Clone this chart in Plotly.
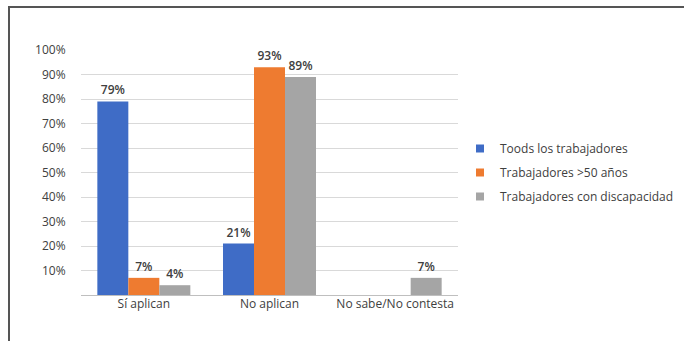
import plotly.graph_objects as go

categories = ["Sí aplican", "No aplican", "No sabe/No contesta"]
series_names = ["Toods los trabajadores", "Trabajadores >50 años", "Trabajadores con discapacidad"]
todos = [79, 21, None]
mayores50 = [7, 93, None]
discapacidad = [4, 89, 7]
y_ticks = [10, 20, 30, 40, 50, 60, 70, 80, 90, 100]
y_tick_labels = [f"{v}%" for v in y_ticks]

colors = ["#3F6CC6", "#EE7B30", "#A5A5A5"]
font_family = "Open Sans, Liberation Sans, sans-serif"

fig = go.Figure()
for i, (name, vals, col) in enumerate(zip(series_names, [todos, mayores50, discapacidad], colors)):
    fig.add_trace(go.Bar(
        x=categories, y=vals, name=name, showlegend=False, legendgroup=f"g{i}",
        marker=dict(color=col, line=dict(width=0)),
        text=[f"{v}%" if v else "" for v in vals],
        textposition="outside",
        textfont=dict(size=12, color="#404040", family=font_family, weight=600),
        cliponaxis=False,
    ))
for i, (name, col) in enumerate(zip(series_names, colors)):
    fig.add_trace(go.Scatter(
        x=[None], y=[None], mode="markers", name=name, legendgroup=f"g{i}",
        marker=dict(symbol="square", size=8, color=col),
        showlegend=True,
    ))

W, H = 684, 341
L, R, T, B = 81, 226, 50, 46
pw, ph = W - L - R, H - T - B

def px(xp):
    return (xp - L) / pw

def py(yp):
    return (H - B - yp) / ph

fig.update_layout(
    width=W, height=H,
    margin=dict(l=L, r=R, t=T, b=B, autoexpand=False),
    paper_bgcolor="white", plot_bgcolor="white",
    barmode="group", bargap=0.26, bargroupgap=0,
    font=dict(family=font_family, size=12, color="#404040"),
    showlegend=True,
    legend=dict(x=px(460), y=py(134), xanchor="left", yanchor="top",
                font=dict(size=12, color="#404040"), tracegroupgap=5,
                itemwidth=30, bgcolor="rgba(0,0,0,0)"),
    xaxis=dict(showgrid=False, showline=False, ticks="", tickfont=dict(size=12, color="#404040")),
    yaxis=dict(range=[0, 100], tickvals=y_ticks, ticktext=y_tick_labels,
               showgrid=True, gridcolor="#D9D9D9", gridwidth=1,
               zeroline=True, zerolinecolor="#BFBFBF", zerolinewidth=1,
               showline=False, ticks="outside", ticklen=12, tickcolor="rgba(0,0,0,0)",
               tickfont=dict(size=12, color="#404040")),
    shapes=[
        dict(type="line", xref="paper", yref="paper", x0=px(9), x1=px(9), y0=py(H + 5), y1=py(7),
             line=dict(color="#555555", width=2)),
        dict(type="line", xref="paper", yref="paper", x0=px(8), x1=px(W + 5), y0=py(7), y1=py(7),
             line=dict(color="#555555", width=2)),
    ],
)

fig.write_html("out.html")
